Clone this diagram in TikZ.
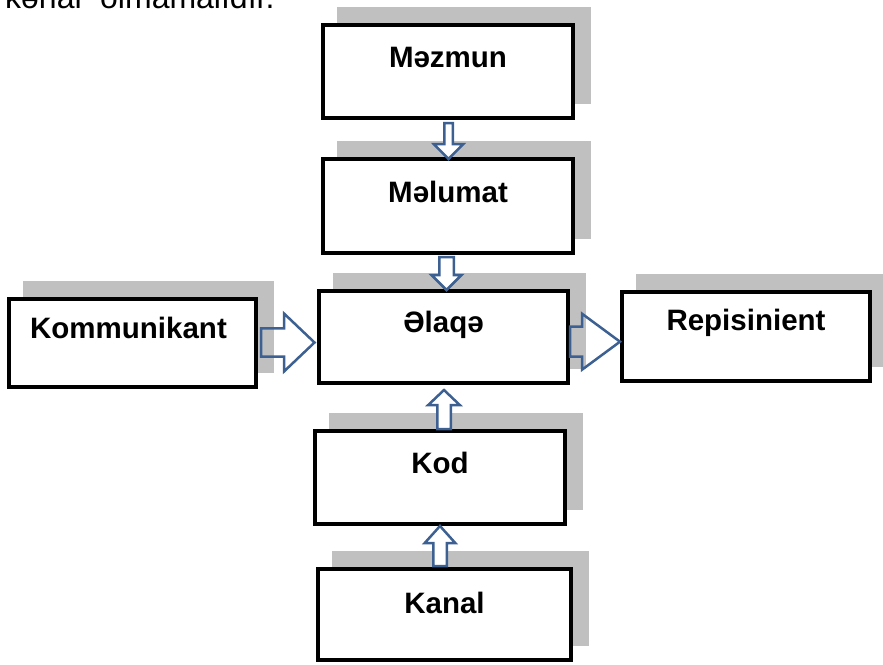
\documentclass[tikz,border=0pt]{standalone}
\usepackage{fontspec}
\setmainfont{Liberation Sans}
\usetikzlibrary{calc,backgrounds}

\definecolor{shadowgray}{RGB}{192,192,192}
\definecolor{arrowblue}{RGB}{60,96,146}

\tikzset{
  box/.style={rectangle, draw=black, line width=3.5pt, fill=white,
    inner sep=0pt, outer sep=0pt},
  boxlabel/.style={anchor=base, inner sep=0pt,
    font=\fontsize{29.5}{34}\selectfont\bfseries},
  bodytext/.style={anchor=base, inner sep=0pt,
    font=\fontsize{32}{38}\selectfont},
  vblock/.style={draw=arrowblue, line width=2.5pt, fill=white},
  hblock/.style={draw=arrowblue, line width=2.5pt},
}

% Block arrow from tail #2 to tip #3:
% #4 half shaft width, #5 half head width, #6 head length
\newcommand\blockarrow[6]{%
  \coordinate (hb) at ($(#3)!#6!(#2)$);
  \draw[#1] ($(#2)!#4!90:(#3)$) -- ($(hb)!#4!90:(#3)$) -- ($(hb)!#5!90:(#3)$)
    -- (#3) -- ($(hb)!#5!-90:(#3)$) -- ($(hb)!#4!-90:(#3)$)
    -- ($(#2)!#4!-90:(#3)$) -- cycle;
}

\begin{document}
\begin{tikzpicture}[x=1pt,y=-1pt]
\useasboundingbox (0,0) rectangle (883,664);

% last line of the preceding paragraph, cut by the top edge
\begin{scope}
  \clip (0,0) rectangle (883,664);
  \node[bodytext, anchor=base west] (intro-a) at (5,8) {kənar};
  \node[bodytext, anchor=base west] (intro-b) at (100,8) {olmamalıdır.};
\end{scope}

% boxes
\node[box, minimum width=250pt, minimum height=93pt] (mezmun)  at (448,71.5)  {};
\node[box, minimum width=250pt, minimum height=94pt] (melumat) at (448,206)   {};
\node[box, minimum width=249pt, minimum height=92pt] (elaqe)   at (443.5,337) {};
\node[box, minimum width=248pt, minimum height=89pt] (repis)   at (746,336.5) {};
\node[box, minimum width=247pt, minimum height=88pt] (kommun)  at (132.5,343) {};
\node[box, minimum width=250pt, minimum height=93pt] (kod)     at (440,477.5) {};
\node[box, minimum width=253pt, minimum height=91pt] (kanal)   at (444.5,614.5) {};

% labels
\node[boxlabel] (mezmun-text)  at ($(mezmun.north)+(0,42)$)  {Məzmun};
\node[boxlabel] (melumat-text) at ($(melumat.north)+(0,43)$) {Məlumat};
\node[boxlabel] (elaqe-text)   at ($(elaqe.north)+(0,41)$)   {Əlaqə};
\node[boxlabel] (repis-text)   at ($(repis.north)+(0,38)$)   {Repisinient};
\node[boxlabel] (kommun-text)  at ($(kommun.north)+(-4,39)$) {Kommunikant};
\node[boxlabel] (kod-text)     at ($(kod.north)+(0,42)$)     {Kod};
\node[boxlabel] (kanal-text)   at ($(kanal.north)+(0,44)$)   {Kanal};

% page and drop shadows
\begin{pgfonlayer}{background}
  \fill[white] (0,0) rectangle (883,664);
  \foreach \b in {mezmun,melumat,elaqe,repis,kommun,kod,kanal}
    \fill[shadowgray] ($(\b.south west)+(14,-14)$) rectangle ($(\b.north east)+(18,-18)$);
\end{pgfonlayer}

% block arrows
\coordinate (t1) at ($(mezmun.south)+(0.5,5)$);
\coordinate (p1) at (t1 |- melumat.north);
\blockarrow{vblock}{t1}{p1}{4.25pt}{14.75pt}{15pt}

\coordinate (t2) at ($(melumat.south)+(-1.5,4)$);
\coordinate (p2) at ($(t2 |- elaqe.north)+(0,-1)$);
\blockarrow{vblock}{t2}{p2}{7.25pt}{15pt}{15pt}

\coordinate (t3) at ($(kod.north)+(4,-2)$);
\coordinate (p3) at ($(t3 |- elaqe.south)+(0,7)$);
\blockarrow{vblock}{t3}{p3}{6.75pt}{15.75pt}{15pt}

\coordinate (t4) at ($(kanal.north)+(-4.5,-3)$);
\coordinate (p4) at ($(t4 |- kod.south)+(0,2)$);
\blockarrow{vblock}{t4}{p4}{6.75pt}{15.25pt}{17pt}

\coordinate (t5) at ($(kommun.east)+(5,-0.5)$);
\coordinate (p5) at ($(elaqe.west |- t5)+(-4.5,0)$);
\blockarrow{hblock}{t5}{p5}{14.2pt}{29pt}{30.5pt}

\coordinate (t6) at ($(elaqe.east)+(2,4.7)$);
\coordinate (p6) at ($(repis.west |- t6)+(-2,0)$);
\blockarrow{hblock}{t6}{p6}{15pt}{28pt}{38pt}
\end{tikzpicture}
\end{document}
